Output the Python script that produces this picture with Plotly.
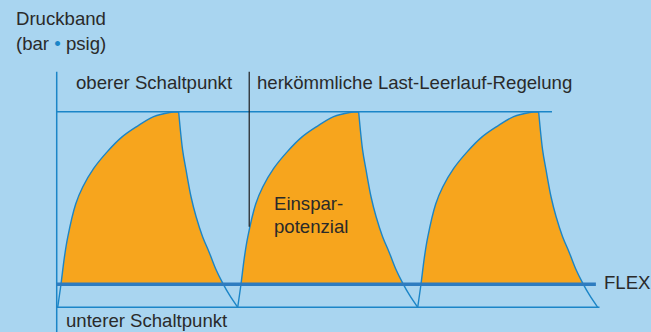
"""Druckband chart: conventional load/idle control vs. FLEX pressure band."""

import plotly.graph_objects as go

# one compressor cycle (time in s, pressure in % of band)
RISE_T = [0, 0.19, 0.36, 0.56, 1.0, 1.39, 2.0, 2.72, 3.56, 4.39, 5.33, 6.22, 6.72]
RISE_P = [0, 12.3, 24.8, 36.0, 52.8, 61.5, 71.0, 79.2, 87.0, 92.4, 97.5, 99.6, 100]
FALL_T = [6.72, 6.94, 7.13, 7.41, 7.69, 8.05, 8.43, 8.80, 9.16, 9.54, 10.0]
FALL_P = [100, 80.4, 70.2, 56.4, 46.3, 36.1, 27.8, 19.2, 12.5, 6.3, 0]
CYCLE_STARTS = [0, 10, 20]

UPPER = 100      # oberer Schaltpunkt
LOWER = 0        # unterer Schaltpunkt
FLEX = 11.8      # FLEX level
DIVIDER_T = 10.64

BG = "#a9d5f0"
ORANGE = "#f7a51d"
BLUE = "#1b85c7"
FLEX_BLUE = "#2e7cc0"
TEXT = "#2a2a2a"
FONT = "Liberation Sans, Arial, sans-serif"

W, H = 651, 332


def px(x, y):
    return x / W, 1 - y / H


fig = go.Figure()

cycles = []
for s in CYCLE_STARTS:
    t = [s + v for v in RISE_T + FALL_T]
    p = RISE_P + FALL_P
    cycles.append((t, p))

# orange area
for t, p in cycles:
    fig.add_trace(go.Scatter(
        x=t, y=p, mode="lines", fill="toself", fillcolor=ORANGE,
        line=dict(width=0, shape="spline", simplify=False), hoverinfo="skip",
    ))

# hide the part below FLEX
t_min = min(cycles[0][0]) - 0.05
t_max = max(cycles[-1][0]) + 0.05
fig.add_trace(go.Scatter(
    x=[t_min, t_max, t_max, t_min], y=[LOWER - 1, LOWER - 1, FLEX, FLEX],
    mode="lines", fill="toself", fillcolor=BG, line=dict(width=0),
    hoverinfo="skip",
))

# blue pressure curves
for t, p in cycles:
    fig.add_trace(go.Scatter(
        x=t, y=p, mode="lines",
        line=dict(color=BLUE, width=1.4, shape="spline", simplify=False),
        hoverinfo="skip",
    ))

axis_x = -0.055
fig.add_shape(type="line", x0=axis_x, x1=axis_x, y0=-20, y1=120.4,
              line=dict(color=BLUE, width=1.5), layer="above")
fig.add_shape(type="line", x0=axis_x, x1=27.46, y0=UPPER, y1=UPPER,
              line=dict(color=BLUE, width=1.5), layer="above")
fig.add_shape(type="line", x0=axis_x, x1=30.1, y0=LOWER, y1=LOWER,
              line=dict(color=BLUE, width=1.5), layer="above")
fig.add_shape(type="line", x0=axis_x, x1=29.9, y0=FLEX, y1=FLEX,
              line=dict(color=FLEX_BLUE, width=3.6), layer="above")
fig.add_shape(type="line", x0=DIVIDER_T, x1=DIVIDER_T, y0=41.2, y1=120.4,
              line=dict(color="#1e1e1e", width=1.2), layer="above")

labels = [
    ("Druckband", 16.7, 18.8),
    ("(bar <span style='color:%s'>•</span> psig)" % BLUE, 16.7, 43.5),
    ("oberer Schaltpunkt", 77.3, 82.2),
    ("herkömmliche Last-Leerlauf-Regelung", 258.3, 82.2),
    ("Einspar-", 275, 203.3),
    ("potenzial", 275, 226.8),
    ("FLEX", 605, 282.2),
    ("unterer Schaltpunkt", 66.7, 320.8),
]
for text, lx, ly in labels:
    ax, ay = px(lx - 3, ly)
    fig.add_annotation(text=text, x=ax, y=ay, xref="paper", yref="paper",
                       xanchor="left", yanchor="middle", showarrow=False,
                       font=dict(family=FONT, size=18.6, color=TEXT))

x0 = 57.7
sx = 18.0
y0 = 307.3
sy = 1.956
fig.update_layout(
    width=W, height=H,
    margin=dict(l=0, r=0, t=0, b=0),
    paper_bgcolor=BG, plot_bgcolor=BG,
    showlegend=False,
    xaxis=dict(visible=False, range=[-x0 / sx, (W - x0) / sx], fixedrange=True),
    yaxis=dict(visible=False, range=[(y0 - H) / sy, y0 / sy], fixedrange=True),
)

fig.write_html(
    "out.html",
    config={"displayModeBar": False},
    post_script="document.body.style.margin='0';document.body.style.overflow='hidden';",
)
